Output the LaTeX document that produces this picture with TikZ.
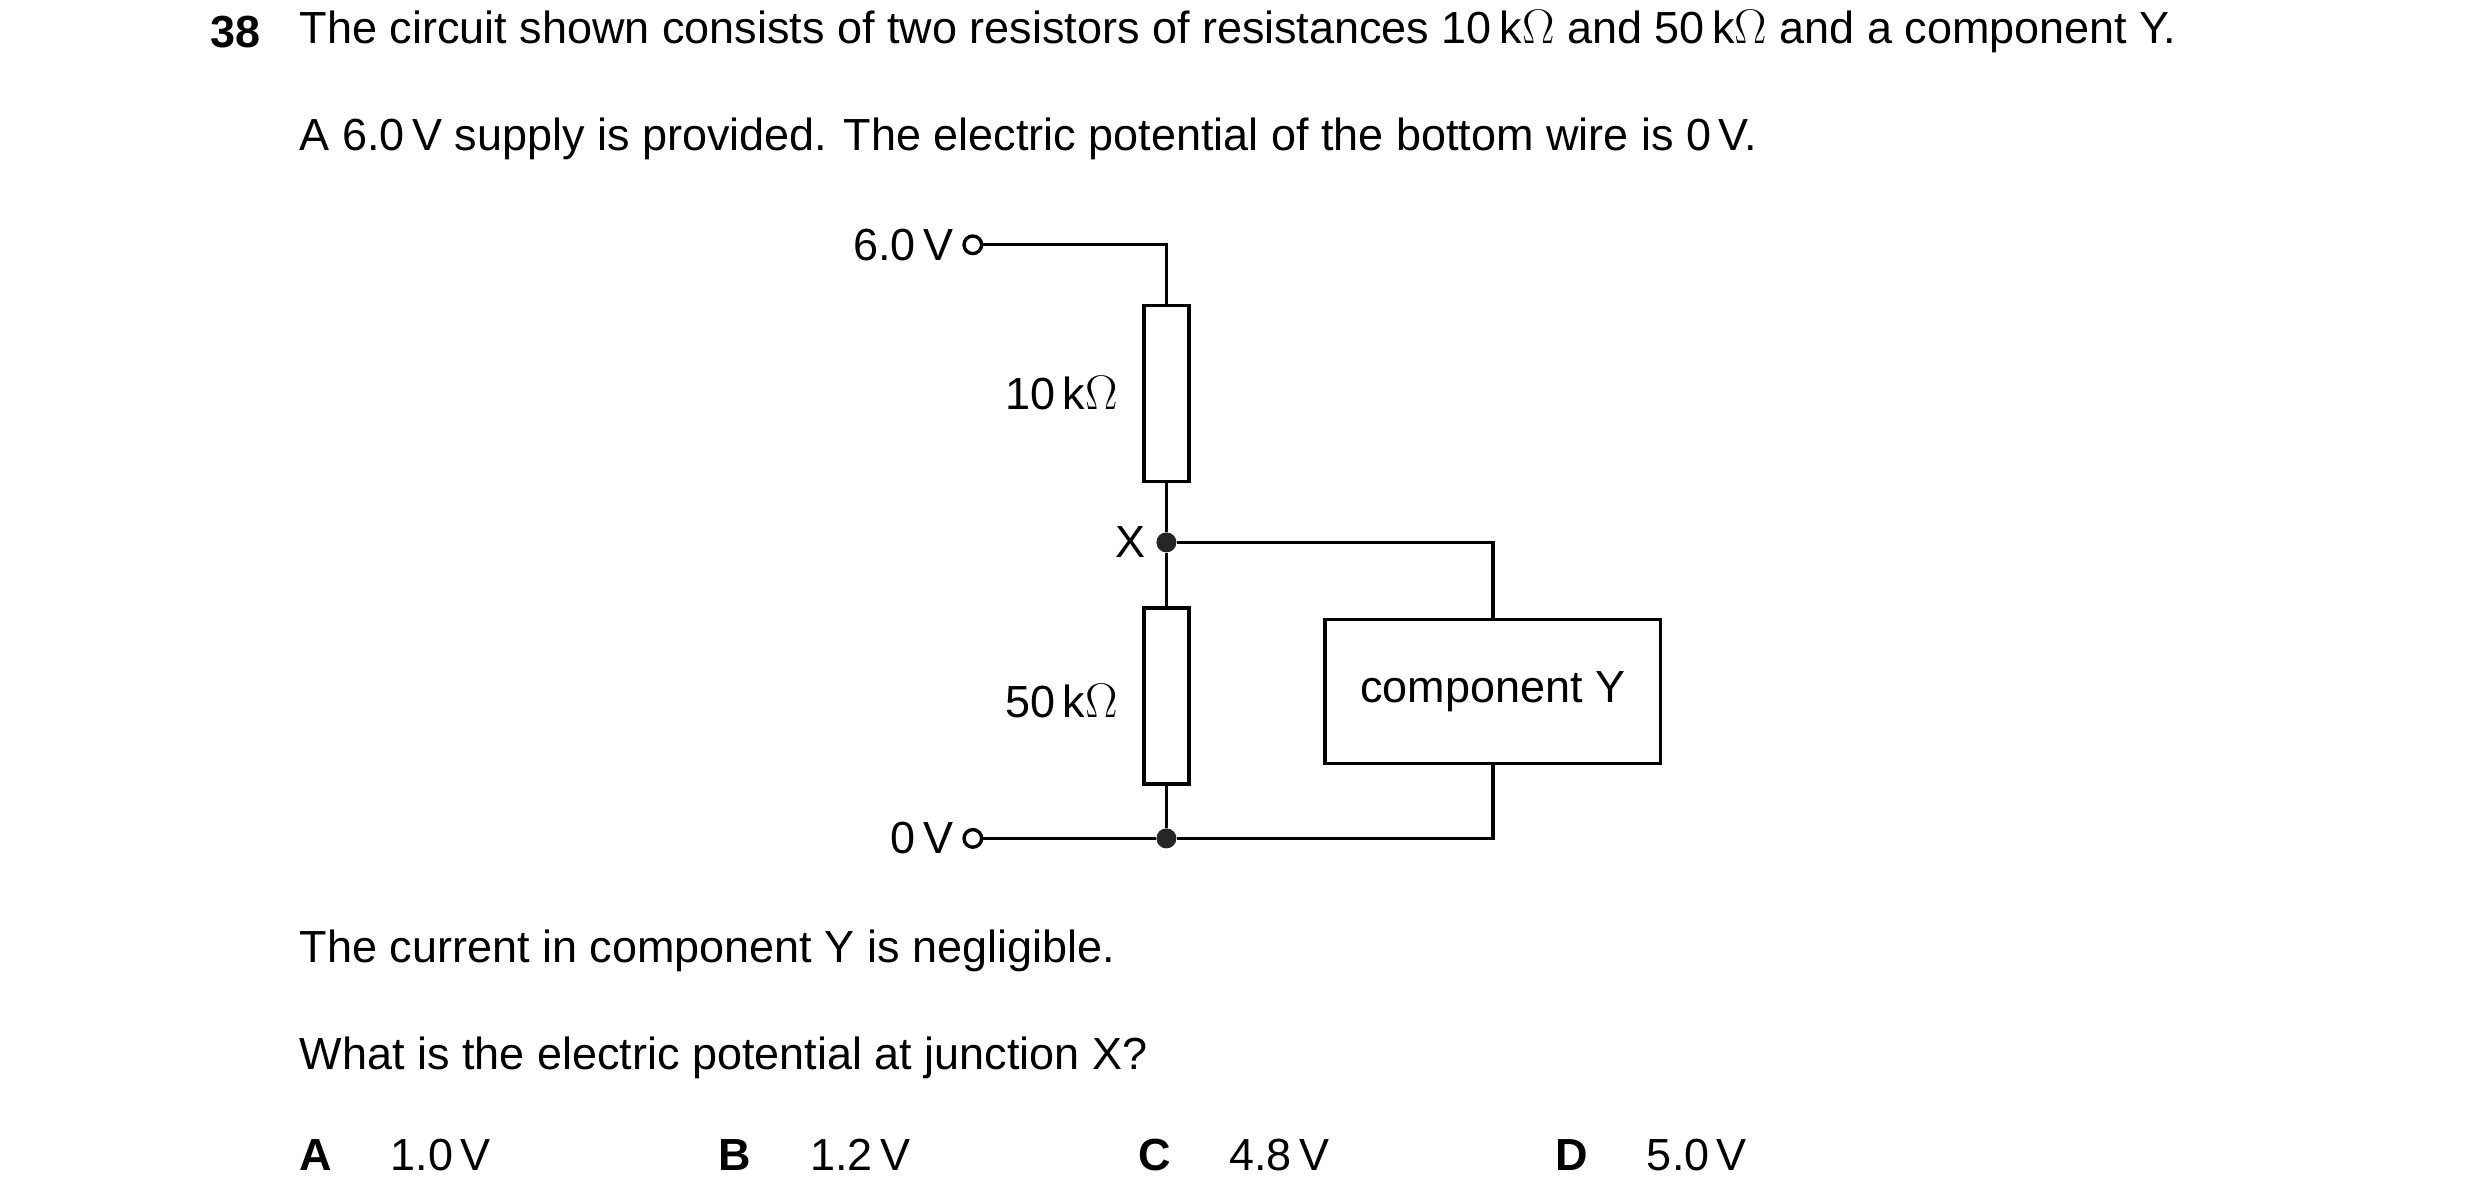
\documentclass[tikz,border=0pt]{standalone}
\usepackage{fontspec}
\setmainfont{Liberation Sans}
\begin{document}
\begin{tikzpicture}[x=0.02cm,y=-0.02cm,
      font=\fontsize{16}{19}\selectfont,
      wire/.style={line width=1.2pt},
      resistor/.style={draw,line width=1.2pt,minimum width=0.56cm,minimum height=2.2cm,inner sep=0pt},
      term/.style={circle,draw,line width=1.2pt,fill=white,minimum size=0.22cm,inner sep=0pt},
      dot/.style={circle,fill=black!85,minimum size=0.25cm,inner sep=0pt},
      txt/.style={anchor=west,inner sep=0pt},
      ]
      \useasboundingbox (0,0) rectangle (1550,749);

      % question text
      \node[txt,font=\fontsize{16}{19}\selectfont\bfseries] (num) at (131,20) {38};
      \node[txt] (l1) at (187,20) {The circuit shown consists of two resistors of resistances 10\,k$\Omega$ and 50\,k$\Omega$ and a component Y.};
      \node[txt] (l2) at (187,87) {A 6.0\,V supply is provided. The electric potential of the bottom wire is 0\,V.};

      % circuit
      \node[term] (top) at (608,153) {};
      \node[term] (bot) at (608,524) {};
      \node[anchor=east,inner sep=0pt] (vtop) at (596,153) {6.0\,V};
      \node[anchor=east,inner sep=0pt] (vbot) at (596,524) {0\,V};
      \coordinate (c1) at (729,153);
      \node[resistor] (r1) at (729,246) {};
      \node[resistor] (r2) at (729,435) {};
      \node[dot] (x) at (729,339) {};
      \node[dot] (j) at (729,524) {};
      \node[anchor=east,inner sep=0pt] (xl) at (716,339) {X};
      \node[anchor=east,inner sep=0pt] (l10) at (699,246) {10\,k$\Omega$};
      \node[anchor=east,inner sep=0pt] (l50) at (699,438) {50\,k$\Omega$};
      \node[draw,line width=1.2pt,minimum width=4.2cm,minimum height=1.8cm] (y) at (933,432) {component Y};

      \draw[wire] (top) -- (c1) -- (r1.north);
      \draw[wire] (r1.south) -- (x) -- (r2.north);
      \draw[wire] (r2.south) -- (j);
      \draw[wire] (bot) -- (j) -| (y.south);
      \draw[wire] (x) -| (y.north);

      % remaining text
      \node[txt] (l3) at (187,594) {The current in component Y is negligible.};
      \node[txt] (l4) at (187,661) {What is the electric potential at junction X?};
      \foreach \l/\v/\xa in {A/1.0/187,B/1.2/449,C/4.8/711,D/5.0/972}{
        \node[txt,font=\fontsize{16}{19}\selectfont\bfseries] (opt\l) at (\xa,722) {\l};
        \node[txt] (val\l) at (\xa+57,722) {\v\,V};
      }
\end{tikzpicture}
\end{document}
